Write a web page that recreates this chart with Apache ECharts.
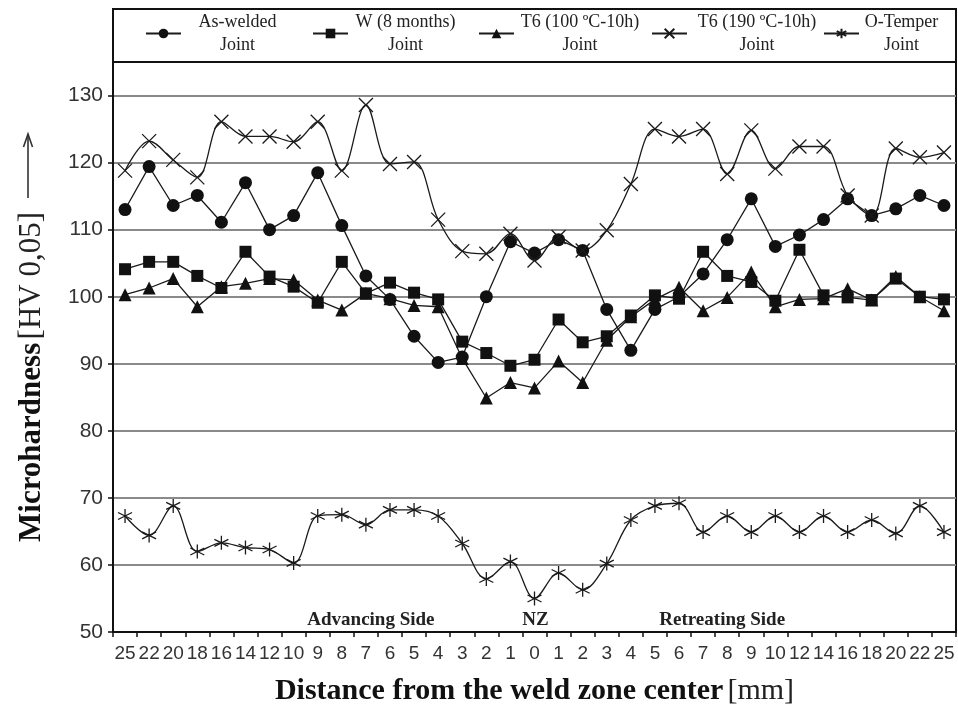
<!DOCTYPE html>
<html>
<head>
<meta charset="utf-8">
<script src="https://cdn.jsdelivr.net/npm/echarts@6/dist/echarts.min.js"></script>
<style>
html,body{margin:0;padding:0;background:#fff;}
#chart{width:958px;height:712px;}
</style>
</head>
<body>
<div id="chart"></div>
<script>
// ---------- data ----------
const categories = ['25','22','20','18','16','14','12','10','9','8','7','6','5','4','3','2','1','0','1','2','3','4','5','6','7','8','9','10','12','14','16','18','20','22','25'];

const asWelded = [113.0,119.4,113.6,115.1,111.1,117.0,110.0,112.1,118.5,110.6,103.1,99.6,94.1,90.2,91.0,100.0,108.2,106.5,108.5,106.9,98.1,92.0,98.1,100.0,103.4,108.5,114.6,107.5,109.2,111.5,114.6,112.1,113.1,115.1,113.6];
const w8months = [104.1,105.2,105.2,103.1,101.3,106.7,103.0,101.5,99.1,105.2,100.5,102.1,100.6,99.6,93.3,91.6,89.7,90.6,96.6,93.2,94.1,97.2,100.2,99.7,106.7,103.1,102.2,99.4,107.0,100.2,99.9,99.5,102.7,100.0,99.6];
const t6_100 = [100.3,101.3,102.7,98.5,101.5,102.0,102.7,102.5,99.5,98.0,100.5,99.7,98.7,98.5,90.8,84.9,87.2,86.4,90.4,87.2,93.5,97.0,99.6,101.4,97.9,99.9,103.7,98.5,99.6,99.7,101.2,99.5,103.0,100.0,97.9];
const t6_190 = [118.8,123.2,120.4,117.8,126.1,123.9,123.9,123.1,126.1,118.8,128.6,119.8,120.1,111.5,106.8,106.4,109.4,105.4,108.9,106.9,109.9,116.8,125.0,123.9,125.0,118.3,124.8,119.1,122.4,122.4,115.1,112.1,122.1,120.8,121.5];
const oTemper = [67.3,64.4,68.8,62.0,63.3,62.6,62.3,60.3,67.3,67.5,66.0,68.2,68.2,67.3,63.2,57.9,60.5,55.0,58.8,56.3,60.2,66.7,68.8,69.2,64.9,67.3,64.9,67.3,64.9,67.3,64.9,66.7,64.7,68.8,64.9];

const seriesNames = ['As-welded Joint','W (8 months) Joint','T6 (100 ºC-10h) Joint','T6 (190 ºC-10h) Joint','O-Temper Joint'];
const legendLine1 = ['As-welded','W (8 months)','T6 (100 ºC-10h)','T6 (190 ºC-10h)','O-Temper'];
const legendLine2 = ['Joint','Joint','Joint','Joint','Joint'];
const yTickValues = [50,60,70,80,90,100,110,120,130];
const annotTexts = ['Advancing Side','NZ','Retreating Side'];
const annotCategoryIndex = [10,17,25];

// ---------- styling ----------
const SERIF = "'Liberation Serif','Times New Roman',serif";
const SANS = "'Liberation Sans',Arial,sans-serif";
const INK = '#1a1a1a';
const X_PATH = 'path://M0,0L10,10M10,0L0,10';
const STAR_PATH = 'path://M5,0L5,10M0.7,2.5L9.3,7.5M0.7,7.5L9.3,2.5';

const chart = echarts.init(document.getElementById('chart'), null, {renderer:'canvas'});

function baseSeries(name, data, symbol, size, smooth, hollow) {
  return {
    name: name, type: 'line', data: data,
    symbol: symbol, symbolSize: size, smooth: smooth,
    showSymbol: true,
    lineStyle: {color: INK, width: 1.3},
    itemStyle: hollow ? {color: 'none', borderColor: INK, borderWidth: 1.3} : {color: '#111'},
    emphasis: {disabled: true},
    animation: false
  };
}

const legendLeft = [145, 312, 478, 651, 823];
const legendBoxW = [103, 105, 122, 130, 75];
const legends = seriesNames.map((n, i) => ({
  data: [n],
  left: legendLeft[i], top: 13,
  padding: 0,
  itemWidth: 35, itemHeight: 12,
  selectedMode: false,
  formatter: () => '{t|' + legendLine1[i] + '}\n{t|' + legendLine2[i] + '}',
  textStyle: {
    rich: {t: {fontFamily: SERIF, fontSize: 18, color: '#222', lineHeight: 23, width: legendBoxW[i], align: 'center'}}
  }
}));

const sAs = baseSeries(seriesNames[0], asWelded, 'circle', 13, false, false);
const sW = baseSeries(seriesNames[1], w8months, 'rect', 12, false, false);
const sT1 = baseSeries(seriesNames[2], t6_100, 'triangle', 13, false, false);
const sT2 = baseSeries(seriesNames[3], t6_190, X_PATH, 14, 0.35, true);
const sO = baseSeries(seriesNames[4], oTemper, STAR_PATH, 14, 0.35, true);
sO.markPoint = {
  symbol: 'rect', symbolSize: 1,
  itemStyle: {color: 'rgba(0,0,0,0)'},
  silent: true,
  label: {show: true, position: 'inside', formatter: '{b}', fontFamily: SERIF, fontWeight: 'bold', fontSize: 19, color: '#222'},
  data: annotTexts.map((t, k) => ({
    name: t, coord: [annotCategoryIndex[k], 51.8],
    label: {offset: [k === 0 ? 5 : (k === 2 ? -5 : 1), 0]}
  }))
};

const option = {
  backgroundColor: '#fff',
  animation: false,
  legend: legends,
  grid: {left: 113, right: 2, top: 62, bottom: 80, show: true, borderColor: '#111', borderWidth: 2, backgroundColor: 'transparent'},
  xAxis: {
    type: 'category', data: categories, boundaryGap: true,
    axisLine: {show: true, lineStyle: {color: '#111', width: 2}},
    axisTick: {show: true, length: 5, inside: false, interval: 0, lineStyle: {color: '#111', width: 1.5}},
    axisLabel: {interval: 0, fontFamily: SANS, fontSize: 19, color: '#333', margin: 12},
    splitLine: {show: false},
    name: '{b|Distance from the weld zone center}{n|[mm]}',
    nameLocation: 'middle', nameGap: 44,
    nameTextStyle: {
      rich: {
        b: {fontFamily: SERIF, fontWeight: 'bold', fontSize: 30, color: '#111'},
        n: {fontFamily: SERIF, fontSize: 30, color: '#222', padding: [0,0,0,4]}
      }
    }
  },
  yAxis: {
    type: 'value', min: 50, max: 135, interval: 10,
    axisLine: {show: true, onZero: false, lineStyle: {color: '#111', width: 2}},
    axisTick: {show: true, length: 5, inside: false, customValues: yTickValues, lineStyle: {color: '#111', width: 1.5}},
    axisLabel: {fontFamily: SANS, fontSize: 21, color: '#333', margin: 10, customValues: yTickValues,
      formatter: v => (v > 130 ? '' : String(v))},
    splitLine: {show: true, lineStyle: {color: '#8a8a8a', width: 2}},
    name: '{b|Microhardness} {n|[HV 0,05]}{s|}',
    nameLocation: 'middle', nameRotate: 90, nameGap: 66,
    nameTextStyle: {
      rich: {
        b: {fontFamily: SERIF, fontWeight: 'bold', fontSize: 31, color: '#111'},
        n: {fontFamily: SERIF, fontSize: 31, color: '#222'},
        s: {width: 60}
      }
    }
  },
  graphic: [
    {type: 'rect', shape: {x: 113, y: 9, width: 843, height: 53}, style: {fill: 'none', stroke: '#111', lineWidth: 2}, z: 10, silent: true},
    {type: 'line', shape: {x1: 28, y1: 198, x2: 28, y2: 135}, style: {stroke: '#333', lineWidth: 1.6}, silent: true},
    {type: 'polyline', shape: {points: [[23.5, 147], [28, 134], [32.5, 147]]}, style: {stroke: '#333', lineWidth: 1.6, fill: 'none'}, silent: true}
  ],
  series: [sAs, sW, sT1, sT2, sO]
};
chart.setOption(option);
</script>
</body>
</html>
